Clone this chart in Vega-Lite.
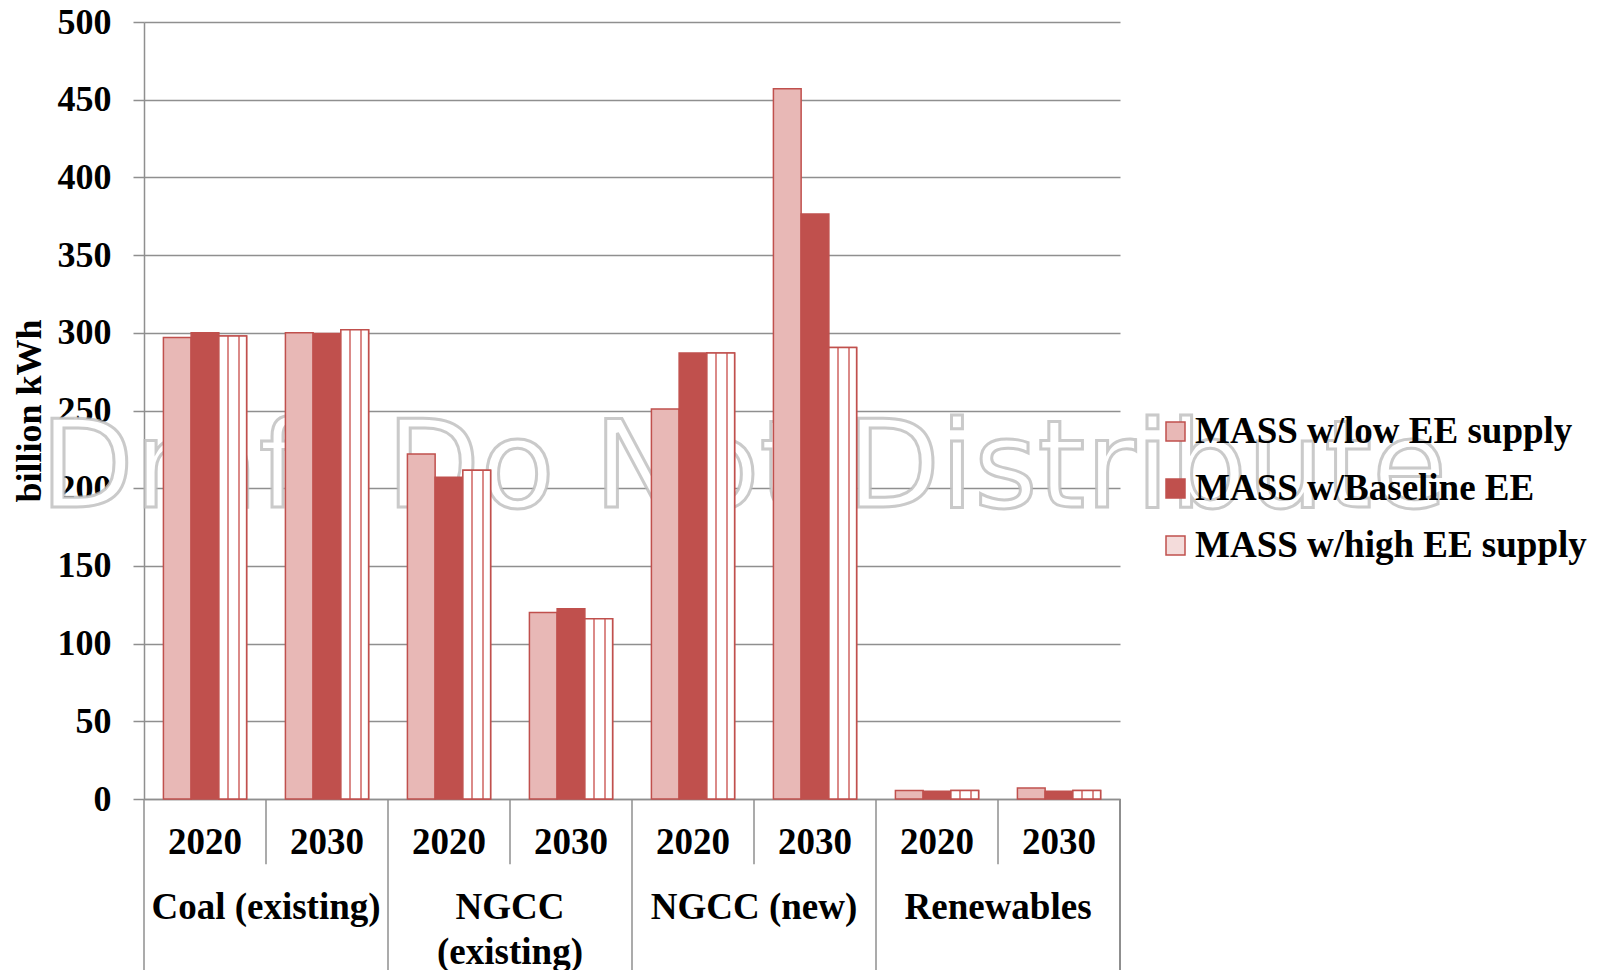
{
  "$schema": "https://vega.github.io/schema/vega-lite/v6.json",
  "autosize": "none",
  "width": 976,
  "height": 777,
  "padding": {"left": 144, "top": 22, "right": 484, "bottom": 171},
  "background": "white",
  "config": {"font": "Liberation Serif", "view": {"stroke": null}},
  "datasets": {
    "bars": [
      {"slot": "Coal (existing)|2020", "series": "MASS w/low EE supply", "value": 297},
      {"slot": "Coal (existing)|2020", "series": "MASS w/Baseline EE", "value": 300},
      {"slot": "Coal (existing)|2020", "series": "MASS w/high EE supply", "value": 298},
      {"slot": "Coal (existing)|2030", "series": "MASS w/low EE supply", "value": 300},
      {"slot": "Coal (existing)|2030", "series": "MASS w/Baseline EE", "value": 299.5},
      {"slot": "Coal (existing)|2030", "series": "MASS w/high EE supply", "value": 302},
      {"slot": "NGCC (existing)|2020", "series": "MASS w/low EE supply", "value": 222},
      {"slot": "NGCC (existing)|2020", "series": "MASS w/Baseline EE", "value": 207},
      {"slot": "NGCC (existing)|2020", "series": "MASS w/high EE supply", "value": 211.5},
      {"slot": "NGCC (existing)|2030", "series": "MASS w/low EE supply", "value": 120},
      {"slot": "NGCC (existing)|2030", "series": "MASS w/Baseline EE", "value": 122.5},
      {"slot": "NGCC (existing)|2030", "series": "MASS w/high EE supply", "value": 116},
      {"slot": "NGCC (new)|2020", "series": "MASS w/low EE supply", "value": 251},
      {"slot": "NGCC (new)|2020", "series": "MASS w/Baseline EE", "value": 287},
      {"slot": "NGCC (new)|2020", "series": "MASS w/high EE supply", "value": 287},
      {"slot": "NGCC (new)|2030", "series": "MASS w/low EE supply", "value": 457},
      {"slot": "NGCC (new)|2030", "series": "MASS w/Baseline EE", "value": 376.5},
      {"slot": "NGCC (new)|2030", "series": "MASS w/high EE supply", "value": 290.5},
      {"slot": "Renewables|2020", "series": "MASS w/low EE supply", "value": 5.5},
      {"slot": "Renewables|2020", "series": "MASS w/Baseline EE", "value": 5},
      {"slot": "Renewables|2020", "series": "MASS w/high EE supply", "value": 5.5},
      {"slot": "Renewables|2030", "series": "MASS w/low EE supply", "value": 7},
      {"slot": "Renewables|2030", "series": "MASS w/Baseline EE", "value": 5},
      {"slot": "Renewables|2030", "series": "MASS w/high EE supply", "value": 5.5}
    ],
    "cats": [
      {"first": "Coal (existing)|2020", "second": "Coal (existing)|2030", "label": "Coal (existing)"},
      {"first": "NGCC (existing)|2020", "second": "NGCC (existing)|2030", "label": "NGCC\n(existing)"},
      {"first": "NGCC (new)|2020", "second": "NGCC (new)|2030", "label": "NGCC (new)"},
      {"first": "Renewables|2020", "second": "Renewables|2030", "label": "Renewables"}
    ],
    "mark": [{"text": "Draft Do Not Distribute"}]
  },
  "layer": [
    {
      "data": {"name": "mark"},
      "mark": {"type": "text", "font": "DejaVu Sans", "fontSize": 122, "align": "left", "baseline": "alphabetic", "fill": "#ffffff", "stroke": "#bdbdbd", "strokeWidth": 3, "strokeOpacity": 0.8, "dx": -104},
      "encoding": {
        "x": {"datum": "Coal (existing)|2020", "type": "nominal", "bandPosition": 0},
        "y": {"datum": 188, "type": "quantitative"},
        "text": {"field": "text"}
      }
    },
    {
      "data": {"name": "bars"},
      "mark": {"type": "bar", "stroke": "#C0504D", "strokeWidth": 1.5},
      "encoding": {
        "x": {
          "field": "slot", "type": "nominal",
          "scale": {"domain": ["Coal (existing)|2020", "Coal (existing)|2030", "NGCC (existing)|2020", "NGCC (existing)|2030", "NGCC (new)|2020", "NGCC (new)|2030", "Renewables|2020", "Renewables|2030"], "paddingInner": 0, "paddingOuter": 0},
          "axis": {
            "title": null, "labelExpr": "split(datum.value, '|')[1]", "labelAngle": 0, "labelAlign": "center",
            "labelFontSize": 37, "labelFontWeight": "bold", "labelColor": "#000000",
            "labelBaseline": "middle", "labelPadding": 43,
            "ticks": false,
            "domainColor": "#8f8f8f", "domainWidth": 1.5, "grid": false
          }
        },
        "xOffset": {
          "field": "series", "type": "nominal",
          "scale": {"domain": ["MASS w/low EE supply", "MASS w/Baseline EE", "MASS w/high EE supply"], "paddingInner": 0, "paddingOuter": 0.7}
        },
        "y": {
          "field": "value", "type": "quantitative",
          "scale": {"domain": [0, 500], "nice": false},
          "axis": {
            "title": "billion kWh", "titleFontSize": 36, "titleFontWeight": "bold", "titleColor": "#000000", "titlePadding": 9,
            "values": [0, 50, 100, 150, 200, 250, 300, 350, 400, 450, 500],
            "labelFontSize": 36, "labelFontWeight": "bold", "labelColor": "#000000", "labelPadding": 22,
            "tickSize": 11, "tickColor": "#8f8f8f", "tickWidth": 1.5,
            "domainColor": "#8f8f8f", "domainWidth": 1.5,
            "grid": true, "gridColor": "#8f8f8f", "gridWidth": 1.5
          }
        },
        "fill": {
          "field": "series", "type": "nominal",
          "scale": {"domain": ["MASS w/low EE supply", "MASS w/Baseline EE", "MASS w/high EE supply"], "range": ["#e8b8b6", "#C0504D", "#f4dcdb"]},
          "legend": {
            "title": null, "orient": "none", "legendX": 1013, "legendY": 391, "padding": 0,
            "symbolType": "square", "symbolSize": 361, "symbolStrokeColor": "#C0504D", "symbolStrokeWidth": 1.5,
            "labelFontSize": 37, "labelFontWeight": "bold", "labelColor": "#000000", "labelOffset": 1,
            "rowPadding": 19, "labelLimit": 600
          }
        }
      }
    },
    {
      "data": {"name": "bars"},
      "transform": [{"filter": "datum.series === 'MASS w/high EE supply'"}],
      "mark": {
        "type": "bar", "stroke": "#C0504D", "strokeWidth": 1.5,
        "fill": {"gradient": "linear", "x1": 0, "y1": 0, "x2": 1, "y2": 0, "stops": [
          {"offset": 0, "color": "#ffffff"}, {"offset": 0.3, "color": "#ffffff"},
          {"offset": 0.3, "color": "#db8a88"}, {"offset": 0.37, "color": "#db8a88"},
          {"offset": 0.37, "color": "#ffffff"}, {"offset": 0.7, "color": "#ffffff"},
          {"offset": 0.7, "color": "#db8a88"}, {"offset": 0.77, "color": "#db8a88"},
          {"offset": 0.77, "color": "#ffffff"}, {"offset": 1, "color": "#ffffff"}
        ]}
      },
      "encoding": {
        "x": {"field": "slot", "type": "nominal"},
        "xOffset": {"field": "series", "type": "nominal"},
        "y": {"field": "value", "type": "quantitative"}
      }
    },
    {
      "data": {"name": "cats"},
      "mark": {"type": "rule", "color": "#8f8f8f", "strokeWidth": 1.5},
      "encoding": {
        "x": {"field": "second", "type": "nominal", "bandPosition": 0},
        "y": {"datum": 0, "type": "quantitative"},
        "y2": {"datum": -42}
      }
    },
    {
      "data": {"name": "cats"},
      "mark": {"type": "rule", "color": "#8f8f8f", "strokeWidth": 1.5},
      "encoding": {
        "x": {"field": "first", "type": "nominal", "bandPosition": 0},
        "y": {"datum": 0, "type": "quantitative"},
        "y2": {"datum": -115}
      }
    },
    {
      "data": {"name": "cats"},
      "mark": {"type": "rule", "color": "#8f8f8f", "strokeWidth": 1.5},
      "encoding": {
        "x": {"datum": "Renewables|2030", "type": "nominal", "bandPosition": 1},
        "y": {"datum": 0, "type": "quantitative"},
        "y2": {"datum": -115}
      }
    },
    {
      "data": {"name": "cats"},
      "mark": {"type": "text", "fontSize": 37, "fontWeight": "bold", "color": "#000000", "baseline": "alphabetic", "align": "center", "lineBreak": "\n", "lineHeight": 45},
      "encoding": {
        "x": {"field": "first", "type": "nominal", "bandPosition": 1},
        "y": {"datum": -77.5, "type": "quantitative"},
        "text": {"field": "label"}
      }
    }
  ]
}
